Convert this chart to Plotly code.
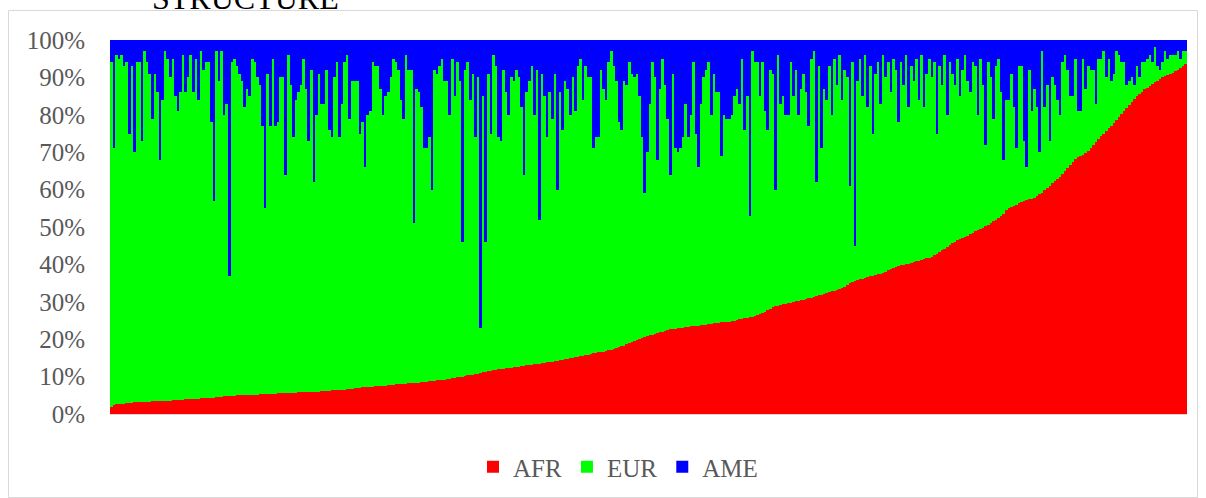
import plotly.graph_objects as go

# Ancestry proportions (%) per individual, sorted by AFR
AFR = [
 1.9, 2.5, 2.6, 2.7, 2.8, 2.8, 2.9, 3.0, 3.0, 3.1,
 3.1, 3.1, 3.2, 3.2, 3.3, 3.3, 3.4, 3.4, 3.4, 3.5,
 3.5, 3.5, 3.6, 3.6, 3.7, 3.7, 3.8, 3.8, 3.8, 3.9,
 3.9, 4.0, 4.0, 4.1, 4.1, 4.2, 4.2, 4.3, 4.3, 4.4,
 4.4, 4.5, 4.5, 4.6, 4.7, 4.7, 4.8, 4.9, 4.9, 5.0,
 5.0, 5.0, 5.1, 5.1, 5.1, 5.2, 5.2, 5.2, 5.3, 5.3,
 5.3, 5.3, 5.4, 5.4, 5.4, 5.5, 5.5, 5.5, 5.6, 5.6,
 5.6, 5.7, 5.7, 5.8, 5.8, 5.8, 5.9, 5.9, 6.0, 6.0,
 6.0, 6.0, 6.1, 6.1, 6.2, 6.2, 6.3, 6.3, 6.3, 6.4,
 6.4, 6.5, 6.6, 6.7, 6.8, 6.9, 7.0, 7.0, 7.1, 7.2,
 7.2, 7.3, 7.3, 7.4, 7.5, 7.5, 7.6, 7.6, 7.7, 7.8,
 7.8, 7.9, 7.9, 8.0, 8.0, 8.1, 8.2, 8.2, 8.3, 8.4,
 8.4, 8.5, 8.6, 8.6, 8.7, 8.8, 8.9, 9.0, 9.1, 9.2,
 9.2, 9.3, 9.4, 9.5, 9.6, 9.8, 9.9, 10.0, 10.1, 10.3,
 10.3, 10.5, 10.6, 10.8, 10.9, 11.1, 11.2, 11.4, 11.5, 11.7,
 11.8, 11.9, 12.0, 12.1, 12.2, 12.3, 12.4, 12.5, 12.6, 12.7,
 12.8, 12.9, 13.0, 13.1, 13.2, 13.3, 13.4, 13.5, 13.6, 13.7,
 13.8, 13.9, 14.0, 14.2, 14.3, 14.4, 14.5, 14.7, 14.8, 14.9,
 15.0, 15.2, 15.3, 15.5, 15.6, 15.8, 15.9, 16.1, 16.2, 16.4,
 16.5, 16.6, 16.7, 16.8, 17.0, 17.2, 17.5, 17.7, 17.9, 18.1,
 18.3, 18.6, 18.9, 19.2, 19.5, 19.8, 20.1, 20.4, 20.7, 20.9,
 21.0, 21.2, 21.4, 21.6, 21.8, 22.0, 22.2, 22.4, 22.6, 22.7,
 22.8, 22.9, 23.0, 23.1, 23.2, 23.3, 23.4, 23.5, 23.6, 23.6,
 23.7, 23.8, 23.9, 24.0, 24.1, 24.2, 24.3, 24.4, 24.5, 24.5,
 24.6, 24.7, 24.8, 25.0, 25.1, 25.3, 25.4, 25.6, 25.7, 25.9,
 26.0, 26.2, 26.4, 26.7, 27.0, 27.4, 27.8, 28.2, 28.5, 28.8,
 29.0, 29.2, 29.3, 29.5, 29.6, 29.8, 29.9, 30.1, 30.2, 30.4,
 30.5, 30.7, 30.9, 31.1, 31.3, 31.5, 31.7, 31.9, 32.1, 32.3,
 32.5, 32.8, 33.0, 33.2, 33.4, 33.6, 34.0, 34.5, 35.0, 35.3,
 35.6, 35.8, 36.0, 36.2, 36.4, 36.6, 36.8, 37.0, 37.2, 37.4,
 37.5, 37.8, 38.1, 38.4, 38.8, 39.1, 39.4, 39.6, 39.8, 39.9,
 40.0, 40.2, 40.4, 40.6, 40.8, 41.0, 41.2, 41.4, 41.6, 41.8,
 42.0, 42.4, 42.8, 43.3, 43.8, 44.2, 44.7, 45.2, 45.6, 46.0,
 46.5, 46.8, 47.1, 47.4, 47.7, 48.0, 48.4, 48.8, 49.1, 49.5,
 49.8, 50.2, 50.6, 51.0, 51.5, 52.0, 52.5, 53.0, 53.5, 54.5,
 55.0, 55.4, 55.7, 56.0, 56.3, 56.6, 56.9, 57.2, 57.4, 57.6,
 57.8, 58.2, 58.7, 59.2, 59.8, 60.4, 61.0, 61.7, 62.3, 62.9,
 63.5, 64.2, 65.0, 65.8, 66.6, 67.4, 68.1, 68.6, 69.0, 69.3,
 69.8, 70.3, 71.0, 71.8, 72.6, 73.4, 74.2, 75.0, 75.8, 76.4,
 77.0, 77.8, 78.6, 79.4, 80.2, 81.0, 81.8, 82.6, 83.4, 84.2,
 85.0, 85.6, 86.2, 86.8, 87.3, 87.8, 88.3, 88.7, 89.1, 89.5,
 90.0, 90.3, 90.6, 90.9, 91.2, 91.6, 92.0, 92.5, 93.0, 93.6,
]

EUR = [
 92.1, 68.5, 93.4, 92.3, 93.2, 90.2, 91.1, 72.0, 90.0, 66.9,
 90.9, 90.9, 69.8, 93.8, 90.7, 87.7, 75.6, 87.6, 82.6, 64.5,
 80.5, 93.5, 91.4, 86.4, 91.3, 81.3, 77.2, 82.2, 92.2, 82.1,
 86.1, 92.0, 82.0, 90.9, 79.9, 92.8, 87.8, 89.7, 89.7, 73.6,
 52.6, 92.5, 84.5, 92.4, 75.3, 78.3, 32.2, 89.1, 90.1, 88.0,
 86.0, 84.0, 76.9, 81.9, 79.9, 89.8, 88.8, 84.8, 82.7, 71.7,
 49.7, 85.7, 71.6, 89.6, 71.6, 72.5, 84.5, 84.5, 58.4, 90.4,
 82.4, 68.3, 78.3, 80.2, 82.2, 89.2, 81.1, 67.1, 86.0, 56.0,
 74.0, 85.0, 76.9, 76.9, 85.8, 69.8, 67.7, 83.7, 87.7, 67.6,
 76.6, 87.5, 89.4, 72.3, 82.2, 82.1, 82.0, 68.0, 70.9, 58.8,
 72.8, 73.7, 86.7, 85.6, 85.5, 79.5, 72.4, 77.4, 78.3, 82.2,
 87.2, 86.1, 84.1, 76.0, 71.0, 87.9, 83.8, 83.8, 42.7, 78.6,
 77.6, 73.5, 62.4, 62.4, 65.3, 51.2, 83.1, 82.0, 83.9, 85.8,
 79.8, 79.7, 70.6, 85.5, 75.4, 84.2, 79.1, 36.0, 81.9, 83.7,
 73.7, 80.5, 63.4, 79.2, 12.1, 73.9, 34.8, 79.6, 63.5, 84.3,
 81.2, 62.1, 61.0, 79.9, 73.8, 67.7, 77.6, 76.5, 79.4, 77.3,
 69.2, 51.1, 73.0, 75.9, 79.8, 66.7, 78.6, 38.5, 77.4, 71.3,
 60.2, 72.1, 65.0, 76.8, 45.7, 71.6, 61.5, 74.3, 72.2, 65.1,
 75.0, 65.8, 77.7, 79.5, 68.4, 77.2, 74.1, 73.9, 54.8, 57.6,
 57.5, 75.4, 70.3, 67.2, 77.0, 79.8, 75.5, 71.3, 60.1, 57.9,
 70.7, 69.4, 75.1, 71.8, 70.5, 71.2, 64.9, 53.6, 38.3, 49.1,
 62.0, 72.8, 68.6, 46.4, 65.2, 73.0, 65.8, 56.6, 41.4, 68.3,
 48.2, 47.1, 48.0, 50.9, 59.8, 50.7, 56.6, 70.5, 51.4, 42.4,
 59.3, 66.2, 68.1, 70.0, 55.9, 66.8, 61.7, 61.6, 44.5, 55.5,
 54.4, 54.3, 55.2, 60.0, 61.9, 57.7, 69.6, 50.4, 59.3, 27.1,
 71.0, 67.8, 67.6, 58.3, 67.0, 53.6, 48.2, 63.8, 62.5, 31.2,
 67.0, 53.8, 55.7, 50.5, 50.4, 64.2, 55.1, 61.9, 49.8, 56.6,
 60.5, 55.3, 46.1, 63.9, 65.7, 30.5, 61.3, 39.1, 54.9, 51.7,
 60.5, 47.2, 62.0, 54.8, 62.6, 50.4, 58.0, 55.5, 26.0, 58.7,
 9.4, 53.2, 59.0, 48.8, 59.6, 45.4, 56.2, 38.0, 53.8, 56.6,
 45.5, 58.2, 51.9, 55.6, 47.2, 55.9, 52.6, 38.4, 54.2, 48.1,
 56.0, 41.8, 52.6, 48.4, 54.2, 43.0, 54.8, 40.6, 49.4, 53.2,
 48.0, 51.6, 32.2, 49.7, 44.2, 51.8, 35.3, 48.8, 45.4, 42.0,
 48.5, 38.2, 44.9, 48.6, 41.3, 38.0, 45.6, 44.2, 30.9, 45.5,
 38.2, 21.8, 43.4, 39.0, 27.5, 41.0, 42.5, 33.0, 14.5, 29.5,
 29.0, 35.6, 26.3, 15.0, 36.7, 36.4, 16.1, 8.8, 34.6, 23.4,
 29.2, 23.8, 11.3, 37.8, 22.2, 27.6, 12.0, 28.3, 25.7, 21.1,
 16.5, 29.8, 31.0, 26.2, 18.4, 17.6, 26.9, 12.4, 12.0, 25.7,
 17.2, 22.7, 21.0, 20.2, 10.4, 21.6, 20.8, 22.0, 14.2, 18.6,
 12.0, 13.2, 18.4, 16.6, 13.8, 13.0, 6.2, 6.4, 6.6, 3.8,
 8.0, 4.4, 7.8, 7.2, 7.7, 8.2, 5.7, 9.3, 3.9, 2.5,
 4.0, 6.7, 4.4, 5.1, 4.8, 4.4, 5.0, 2.5, 4.0, 3.4,
]

AME = [
 6, 29, 4, 5, 4, 7, 6, 25, 7, 30,
 6, 6, 27, 3, 6, 9, 21, 9, 14, 32,
 16, 3, 5, 10, 5, 15, 19, 14, 4, 14,
 10, 4, 14, 5, 16, 3, 8, 6, 6, 22,
 43, 3, 11, 3, 20, 17, 63, 6, 5, 7,
 9, 11, 18, 13, 15, 5, 6, 10, 12, 23,
 45, 9, 23, 5, 23, 22, 10, 10, 36, 4,
 12, 26, 16, 14, 12, 5, 13, 27, 8, 38,
 20, 9, 17, 17, 8, 24, 26, 10, 6, 26,
 17, 6, 4, 21, 11, 11, 11, 25, 22, 34,
 20, 19, 6, 7, 7, 13, 20, 15, 14, 10,
 5, 6, 8, 16, 21, 4, 8, 8, 49, 13,
 14, 18, 29, 29, 26, 40, 8, 9, 7, 5,
 11, 11, 20, 5, 15, 6, 11, 54, 8, 6,
 16, 9, 26, 10, 77, 15, 54, 9, 25, 4,
 7, 26, 27, 8, 14, 20, 10, 11, 8, 10,
 18, 36, 14, 11, 7, 20, 8, 48, 9, 15,
 26, 14, 21, 9, 40, 14, 24, 11, 13, 20,
 10, 19, 7, 5, 16, 7, 10, 10, 29, 26,
 26, 8, 13, 16, 6, 3, 7, 11, 22, 24,
 11, 12, 6, 9, 10, 9, 15, 26, 41, 30,
 17, 6, 10, 32, 13, 5, 12, 21, 36, 9,
 29, 30, 29, 26, 17, 26, 20, 6, 25, 34,
 17, 10, 8, 6, 20, 9, 14, 14, 31, 20,
 21, 21, 20, 15, 13, 17, 5, 24, 15, 47,
 3, 6, 6, 15, 6, 19, 24, 8, 9, 40,
 4, 17, 15, 20, 20, 6, 15, 8, 20, 13,
 9, 14, 23, 5, 3, 38, 7, 29, 13, 16,
 7, 20, 5, 12, 4, 16, 8, 10, 39, 6,
 55, 11, 5, 15, 4, 18, 7, 25, 9, 6,
 17, 4, 10, 6, 14, 5, 8, 22, 6, 12,
 4, 18, 7, 11, 5, 16, 4, 18, 9, 5,
 10, 6, 25, 7, 12, 4, 20, 6, 9, 12,
 5, 15, 8, 4, 11, 14, 6, 7, 20, 5,
 12, 28, 6, 10, 21, 7, 5, 14, 32, 16,
 16, 9, 18, 29, 7, 7, 27, 34, 8, 19,
 13, 18, 30, 3, 18, 12, 27, 10, 12, 16,
 20, 6, 4, 8, 15, 15, 5, 19, 19, 5,
 13, 7, 8, 8, 17, 5, 5, 3, 10, 5,
 11, 9, 3, 4, 6, 6, 12, 11, 10, 12,
 7, 10, 6, 6, 5, 4, 6, 2, 7, 8,
 6, 3, 5, 4, 4, 4, 3, 5, 3, 3,
]

SERIES = [("AFR", AFR, "#FF0000"), ("EUR", EUR, "#00FF00"), ("AME", AME, "#0000FF")]
samples = list(range(1, len(AFR) + 1))
TITLE = "STRUCTURE"
Y_TICKS = [0, 10, 20, 30, 40, 50, 60, 70, 80, 90, 100]

fig = go.Figure()
for name, vals, col in SERIES:
    fig.add_trace(go.Bar(x=samples, y=vals, name=name,
                         marker=dict(color=col, line=dict(width=0))))

FONT = "Liberation Serif, Times New Roman, serif"
W, H = 1206, 498
L, R, T, B = 110, 19, 40, 84

def px_x(p):
    return (p - L) / (W - L - R)

def px_y(p):
    return (H - B - p) / (H - T - B)

fig.update_layout(
    width=W, height=H, autosize=False,
    margin=dict(l=L, r=R, t=T, b=B, autoexpand=False),
    paper_bgcolor="white", plot_bgcolor="white",
    barmode="stack", bargap=0,
    font=dict(family=FONT, color="#595959", size=25),
    showlegend=True,
    legend=dict(orientation="h", x=px_x(618), xanchor="center",
                y=px_y(467), yanchor="middle", traceorder="normal",
                font=dict(family=FONT, size=25, color="#595959"),
                itemwidth=30, bgcolor="rgba(0,0,0,0)"),
    xaxis=dict(range=[0.5, len(AFR) + 0.5], showticklabels=False, ticks="",
               showgrid=False, zeroline=False, showline=True,
               linecolor="#d9d9d9", linewidth=1),
    yaxis=dict(range=[0, 100], tickvals=Y_TICKS,
               ticktext=[f"{v}%" for v in Y_TICKS], ticks="",
               showgrid=True, gridcolor="#d9d9d9", zeroline=False,
               showline=False, ticklabelstandoff=24,
               tickfont=dict(family=FONT, size=25, color="#595959")),
    shapes=[dict(type="rect", xref="paper", yref="paper",
                 x0=px_x(8.5), x1=px_x(1197.5), y0=px_y(497.5), y1=px_y(10.5),
                 line=dict(color="#d9d9d9", width=1), fillcolor="rgba(0,0,0,0)",
                 layer="below")],
    annotations=[dict(text=TITLE, xref="paper", yref="paper",
                      x=px_x(150), y=px_y(18), xanchor="left", yanchor="bottom",
                      showarrow=False,
                      font=dict(family=FONT, size=32, color="#000000"))],
)

# remove the browser's default page margin so the figure sits at the window's corner
fig.write_html("out.html", config={"displayModeBar": False},
               post_script="document.body.style.margin='0';")
